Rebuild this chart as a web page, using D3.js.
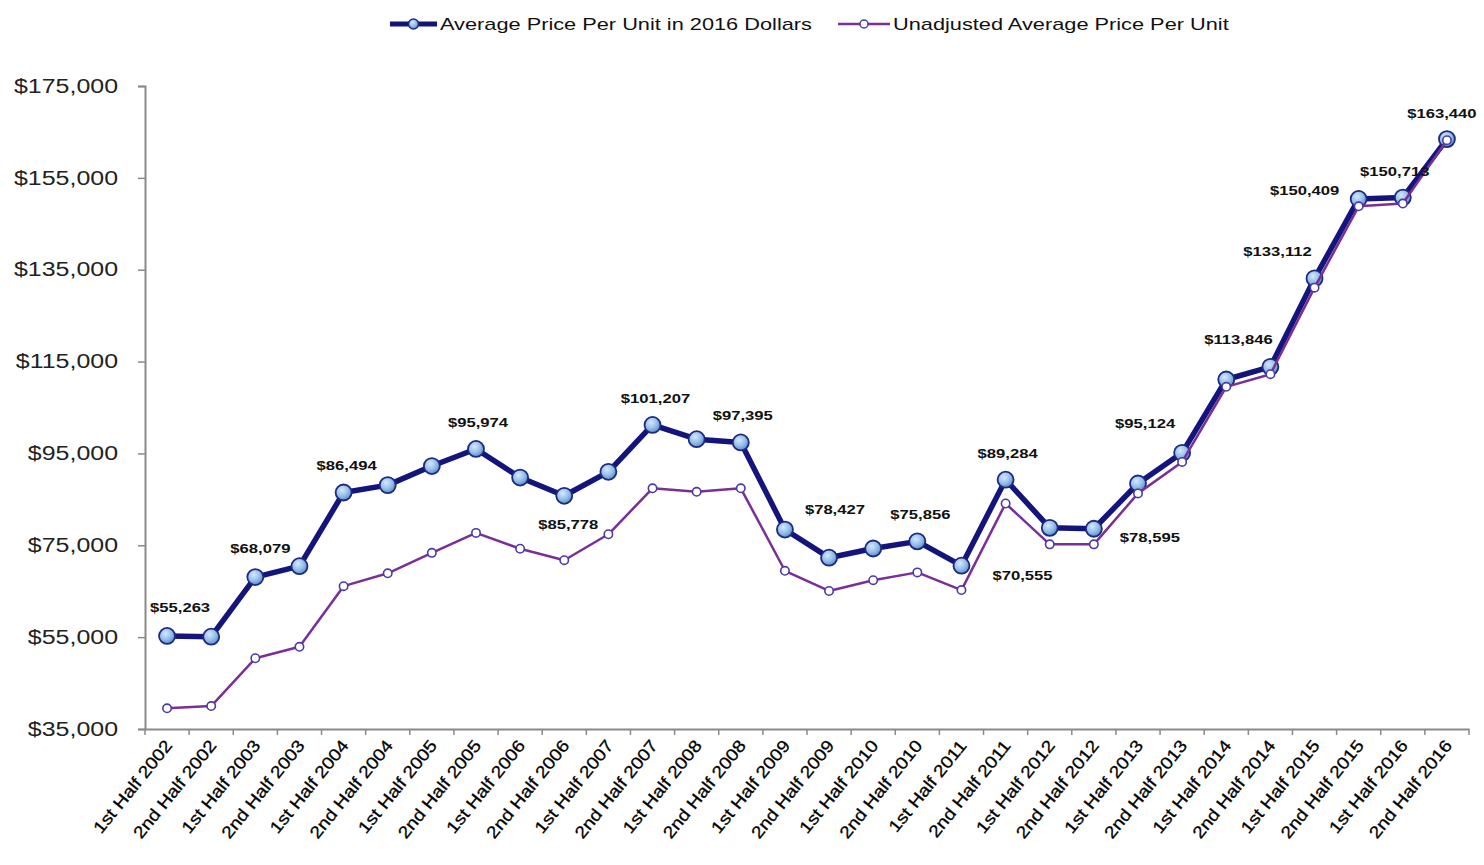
<!DOCTYPE html>
<html>
<head>
<meta charset="utf-8">
<script src="https://cdn.jsdelivr.net/npm/d3@7"></script>
<style>
	body { margin: 0; background: #fff; }
	svg { display: block; font-family: "Liberation Sans", Arial, sans-serif; }
</style>
</head>
<body>
<div id="chart"></div>
<script>

var categories = [
	"1st Half 2002", "2nd Half 2002", "1st Half 2003", "2nd Half 2003", "1st Half 2004",
	"2nd Half 2004", "1st Half 2005", "2nd Half 2005", "1st Half 2006", "2nd Half 2006",
	"1st Half 2007", "2nd Half 2007", "1st Half 2008", "2nd Half 2008", "1st Half 2009",
	"2nd Half 2009", "1st Half 2010", "2nd Half 2010", "1st Half 2011", "2nd Half 2011",
	"1st Half 2012", "2nd Half 2012", "1st Half 2013", "2nd Half 2013", "1st Half 2014",
	"2nd Half 2014", "1st Half 2015", "2nd Half 2015", "1st Half 2016", "2nd Half 2016"
]

// average price per unit, 2016 dollars
var adjusted = [
	55263, 55100, 68079, 70450, 86494, 88100, 92250, 95974, 89750, 85778,
	91000, 101207, 98100, 97395, 78427, 72300, 74300, 75856, 70555, 89284,
	78800, 78595, 88450, 95124, 111100, 113846, 133112, 150409, 150713, 163440
]

// unadjusted average price per unit
var unadjusted = [
	39500, 40000, 50400, 52900, 66100, 68900, 73350, 77700, 74250, 71750,
	77400, 87400, 86650, 87400, 69450, 65050, 67400, 69100, 65250, 84100,
	75200, 75200, 86300, 93150, 109500, 112250, 131100, 148800, 149400, 163200
]

var yTicks = [35000, 55000, 75000, 95000, 115000, 135000, 155000, 175000]

var seriesNames = ["Average Price Per Unit in 2016 Dollars", "Unadjusted Average Price Per Unit"]

// which points of the adjusted line carry a value label
var labelIndex = [0, 2, 4, 7, 9, 11, 13, 14, 17, 18, 19, 21, 23, 25, 26, 27, 28, 29]
// where each label sits relative to its point (px)
var labelShift = [
	[13, -29], [5, -29], [3, -27], [2, -27], [4, 28], [3, -27], [2, -27], [50, -21], [3, -27],
	[61, 9], [2, -27], [56, 8], [-37, -30], [-32, -28], [-37, -27], [-54, -9], [-8, -27], [-5, -26]
]

var W = 1484, H = 865
var stretch = 1.28   // the source text is a bit wide

var navy = "#14157c"
var purple = "#7a2f97"

var svg = d3.select("#chart").append("svg")
	.attr("width", W)
	.attr("height", H)

var x = d3.scaleBand()
	.domain(categories)
	.range([145, 1469])

var y = d3.scaleLinear()
	.domain([35000, 175000])
	.range([729, 86])

var defs = svg.append("defs")
var grad = defs.append("radialGradient")
	.attr("id", "ball")
	.attr("cx", "40%").attr("cy", "35%").attr("r", "65%")
grad.append("stop").attr("offset", "0%").attr("stop-color", "#d6e8fb")
grad.append("stop").attr("offset", "60%").attr("stop-color", "#92bde9")
grad.append("stop").attr("offset", "100%").attr("stop-color", "#5d8cc9")

function px(d, i) { return x(categories[i]) + x.bandwidth() / 2 }

// axes
var yAxis = svg.append("g")
	.attr("transform", "translate(145,0)")
	.call(d3.axisLeft(y).tickValues(yTicks).tickSize(7).tickPadding(20)
		.tickFormat(function (d) { return "$" + d3.format(",")(d) }))
yAxis.select(".domain").attr("stroke", "#8a8a8a").attr("stroke-width", 2)
yAxis.selectAll(".tick line").attr("stroke", "#8a8a8a").attr("stroke-width", 1.5)
yAxis.selectAll(".tick text")
	.attr("font-size", 19.5)
	.attr("fill", "#222")
	.attr("transform", "scale(" + stretch + ",1)")
	.attr("x", -27 / stretch)

var xAxis = svg.append("g")
	.attr("transform", "translate(0,729)")
	.call(d3.axisBottom(x).tickSize(0).tickPadding(0))
xAxis.select(".domain").attr("stroke", "#8a8a8a").attr("stroke-width", 2)
xAxis.selectAll(".tick text").remove()

// x ticks sit between categories
var edges = categories.map(function (c) { return x(c) }).concat([x.range()[1]])
xAxis.selectAll(".edge")
	.data(edges)
	.enter().append("line")
		.attr("class", "edge")
		.attr("x1", function (d) { return d })
		.attr("x2", function (d) { return d })
		.attr("y1", 0)
		.attr("y2", 6)
		.attr("stroke", "#8a8a8a")
		.attr("stroke-width", 1.5)

xAxis.selectAll(".cat")
	.data(categories)
	.enter().append("text")
		.attr("class", "cat")
		.attr("text-anchor", "end")
		.attr("font-size", 17)
		.attr("fill", "#000")
		.attr("stroke", "#000")
		.attr("stroke-width", 0.3)
		.attr("transform", function (d) {
			return "translate(" + (x(d) + x.bandwidth() / 2 + 6) + ",17) rotate(-51) scale(1.14,1)"
		})
		.text(function (d) { return d })

// adjusted series
var line = d3.line()
	.x(px)
	.y(function (d) { return y(d) })

svg.append("path")
	.datum(adjusted)
	.attr("fill", "none")
	.attr("stroke", navy)
	.attr("stroke-width", 5.5)
	.attr("stroke-linejoin", "round")
	.attr("d", line)

svg.selectAll(".adj")
	.data(adjusted)
	.enter().append("circle")
		.attr("class", "adj")
		.attr("cx", px)
		.attr("cy", function (d) { return y(d) })
		.attr("r", 8)
		.attr("fill", "url(#ball)")
		.attr("stroke", "#1c2a80")
		.attr("stroke-width", 1.8)

// unadjusted series
svg.append("path")
	.datum(unadjusted)
	.attr("fill", "none")
	.attr("stroke", purple)
	.attr("stroke-width", 2.5)
	.attr("stroke-linejoin", "round")
	.attr("d", line)

svg.selectAll(".unadj")
	.data(unadjusted)
	.enter().append("circle")
		.attr("class", "unadj")
		.attr("cx", px)
		.attr("cy", function (d) { return y(d) })
		.attr("r", 4.2)
		.attr("fill", "#fff")
		.attr("stroke", "#4a3aa8")
		.attr("stroke-width", 1.6)

// value labels
svg.selectAll(".val")
	.data(labelIndex)
	.enter().append("text")
		.attr("class", "val")
		.attr("text-anchor", "middle")
		.attr("font-size", 13)
		.attr("font-weight", "bold")
		.attr("fill", "#111")
		.attr("transform", function (d, k) {
			var cx = px(null, d) + labelShift[k][0]
			var cy = y(adjusted[d]) + labelShift[k][1] + 5
			return "translate(" + cx + "," + cy + ") scale(" + stretch + ",1)"
		})
		.text(function (d) { return "$" + d3.format(",")(adjusted[d]) })

// legend
var legend = svg.append("g").attr("transform", "translate(0,24)")
var legendItems = [
	{ x0: 390, x1: 437, color: navy, width: 5, r: 5, fill: "url(#ball)", stroke: "#1c2a80" },
	{ x0: 838, x1: 890, color: purple, width: 2.5, r: 4, fill: "#fff", stroke: "#4a3aa8" }
]
legendItems.forEach(function (it, i) {
	legend.append("line")
		.attr("x1", it.x0).attr("x2", it.x1)
		.attr("y1", 0).attr("y2", 0)
		.attr("stroke", it.color)
		.attr("stroke-width", it.width)
	legend.append("circle")
		.attr("cx", (it.x0 + it.x1) / 2).attr("cy", 0)
		.attr("r", it.r)
		.attr("fill", it.fill)
		.attr("stroke", it.stroke)
		.attr("stroke-width", 1.5)
	legend.append("text")
		.attr("transform", "translate(" + (it.x1 + 3) + ",6) scale(" + stretch + ",1)")
		.attr("font-size", 17)
		.attr("fill", "#111")
		.text(seriesNames[i])
})

</script>
</body>
</html>
